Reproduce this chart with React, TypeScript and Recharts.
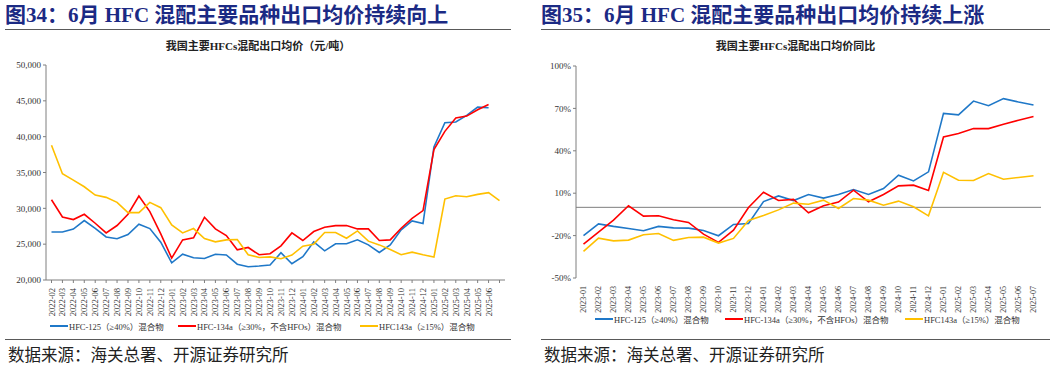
import React from "react";
import { LineChart, Line, XAxis, YAxis, ReferenceLine } from "recharts";

// 左图：出口均价（元/吨）
const priceMonths = [
  "2022-02", "2022-03", "2022-04", "2022-05", "2022-06", "2022-07", "2022-08", "2022-09", "2022-10", "2022-11", "2022-12",
  "2023-01", "2023-02", "2023-03", "2023-04", "2023-05", "2023-06", "2023-07", "2023-08", "2023-09", "2023-10", "2023-11", "2023-12",
  "2024-01", "2024-02", "2024-03", "2024-04", "2024-05", "2024-06", "2024-07", "2024-08", "2024-09", "2024-10", "2024-11", "2024-12",
  "2025-01", "2025-02", "2025-03", "2025-04", "2025-05", "2025-06", "",
];
const hfc125Price = [
  26700, 26700, 27100, 28300, 27200, 26000, 25750, 26350, 27780, 27180, 25280,
  22400, 23600, 23100, 23000, 23600, 23500, 22200, 21850, 21950, 22100, 23800, 22270,
  23240, 25320, 24070, 25050, 25050, 25600, 24900, 23840, 24900, 27000, 28240, 27870,
  38570, 41950, 42040, 42960, 44120, 44030, null,
];
const hfc134aPrice = [
  31200, 28800, 28430, 29170, 27920, 26570, 27600, 29170, 31710, 29540, 26440,
  23060, 25600, 25880, 28750, 27130, 26200, 24210, 24540, 23520, 23660, 24770, 26570,
  25510, 26760, 27360, 27590, 27590, 27130, 27130, 25510, 25600, 27220, 28610, 29680,
  38200, 40740, 42600, 42870, 43750, 44490, null,
];
const hfc143aPrice = [
  38800, 34820, 33940, 33010, 31850, 31530, 30830, 29400, 29400, 30830, 30090,
  27690, 26570, 27180, 25790, 25320, 25600, 25650, 23520, 23150, 23220, 22960, 23470,
  24720, 25000, 26620, 26620, 25830, 26850, 25420, 24900, 24260, 23520, 23890, 23520,
  23190, 31300, 31760, 31620, 31950, 32180, 31070,
];
const priceTicks = [20000, 25000, 30000, 35000, 40000, 45000, 50000];

// 右图：出口均价同比（%）
const yoyMonths = [
  "2023-01", "2023-02", "2023-03", "2023-04", "2023-05", "2023-06", "2023-07", "2023-08", "2023-09", "2023-10", "2023-11", "2023-12",
  "2024-01", "2024-02", "2024-03", "2024-04", "2024-05", "2024-06", "2024-07", "2024-08", "2024-09", "2024-10", "2024-11", "2024-12",
  "2025-01", "2025-02", "2025-03", "2025-04", "2025-05", "2025-06", "2025-07",
];
const hfc125Yoy = [
  -20.1, -11.7, -13.5, -15.0, -16.6, -13.5, -14.5, -14.7, -16.4, -20.1, -12.1, -11.4,
  4.1, 8.1, 4.8, 9.1, 6.5, 9.1, 12.6, 9.1, 13.3, 22.7, 18.7, 25.1,
  66.5, 65.4, 75.2, 71.9, 76.9, 74.5, 72.4,
];
const hfc134aYoy = [
  -26.0, -17.5, -9.1, 1.1, -6.2, -6.0, -8.8, -10.7, -19.0, -24.8, -16.1, -0.1,
  10.7, 4.8, 5.6, -3.9, 1.1, 3.7, 12.1, 3.9, 9.1, 15.2, 15.7, 11.9,
  49.8, 52.2, 55.7, 55.7, 58.8, 61.6, 64.2,
];
const hfc143aYoy = [
  -31.2, -21.8, -23.7, -23.2, -19.4, -18.5, -23.4, -21.3, -21.1, -25.3, -22.0, -9.3,
  -5.8, -1.8, 3.0, 2.2, 5.1, -0.8, 6.2, 5.1, 1.5, 4.4, 0.4, -6.0,
  24.8, 19.2, 19.0, 23.9, 19.9, 21.1, 22.3,
];
const yoyTicks = [-50, -20, 10, 40, 70, 100];

const seriesNames = ["HFC-125（≥40%）混合物", "HFC-134a（≥30%，不含HFOs）混合物", "HFC143a（≥15%）混合物"];
const COLORS = ["#1F78C8", "#FF0000", "#FFC000"];

const SERIF = "'Liberation Serif', 'Times New Roman', 'Noto Sans CJK SC', serif";
const CJK = "'Noto Sans CJK SC', sans-serif";
const AXIS = "#7f7f7f";

const priceData = priceMonths.map((m, i) => ({
  month: m,
  a: hfc125Price[i],
  b: hfc134aPrice[i],
  c: hfc143aPrice[i],
}));
const yoyData = yoyMonths.map((m, i) => ({
  month: m,
  a: hfc125Yoy[i],
  b: hfc134aYoy[i],
  c: hfc143aYoy[i],
}));

function MonthTick(props: any) {
  const { x, y, payload, size = 8.5, gap = 3 } = props;
  return (
    <text
      x={x}
      y={y + gap}
      transform={`rotate(-90, ${x}, ${y + gap})`}
      textAnchor="end"
      dominantBaseline="central"
      fontSize={size}
      fontFamily={SERIF}
      fill="#333"
    >
      {payload.value}
    </text>
  );
}

function LegendRow({ left, top, offsets }: { left: number; top: number; offsets: number[] }) {
  return (
    <>
      {seriesNames.map((name, i) => (
        <div
          key={name}
          style={{
            position: "absolute",
            left: left + offsets[i],
            top: top - 6,
            height: 12,
            display: "flex",
            alignItems: "center",
            whiteSpace: "nowrap",
            fontFamily: SERIF,
            fontSize: 8.5,
            color: "#333",
          }}
        >
          <span style={{ display: "inline-block", width: 18, height: 2, background: COLORS[i], marginRight: 1 }} />
          {name}
        </div>
      ))}
    </>
  );
}

function Header({ left, width, title, subtitle }: { left: number; width: number; title: string; subtitle: string }) {
  return (
    <>
      <div
        style={{
          position: "absolute",
          left: left,
          top: 3,
          fontFamily: "'Liberation Serif', 'Noto Sans CJK SC', serif",
          fontWeight: 700,
          fontSize: 21,
          lineHeight: "24px",
          color: "#1B2A84",
          whiteSpace: "nowrap",
        }}
      >
        {title}
      </div>
      <div style={{ position: "absolute", left: left, top: 29, width: width, height: 1, background: "#595959" }} />
      <div
        style={{
          position: "absolute",
          left: left,
          width: width,
          top: 37,
          textAlign: "center",
          fontFamily: SERIF,
          fontWeight: 700,
          fontSize: 11,
          color: "#222",
        }}
      >
        {subtitle}
      </div>
      <div style={{ position: "absolute", left: left, top: 339, width: width, height: 1, background: "#595959" }} />
      <div
        style={{
          position: "absolute",
          left: left + 3,
          top: 343,
          fontFamily: CJK,
          fontSize: 16.5,
          lineHeight: "22px",
          color: "#222",
          whiteSpace: "nowrap",
        }}
      >
        数据来源：海关总署、开源证券研究所
      </div>
    </>
  );
}

export default function App() {
  return (
    <div style={{ position: "absolute", left: 0, top: 0, width: 1057, height: 366, background: "#fff", overflow: "hidden" }}>
      <Header left={5} width={506} title="图34：6月 HFC 混配主要品种出口均价持续向上" subtitle="我国主要HFCs混配出口均价（元/吨）" />
      <Header left={541} width={509} title="图35：6月 HFC 混配主要品种出口均价持续上涨" subtitle="我国主要HFCs混配出口均价同比" />

      <div style={{ position: "absolute", left: 0, top: 55 }}>
        <LineChart width={520} height={275} data={priceData} margin={{ top: 10, right: 15, left: 6, bottom: 0 }}>
          <XAxis
            dataKey="month"
            interval={0}
            height={50}
            padding={{ left: 5.5, right: 5.5 }}
            tick={<MonthTick />}
            stroke={AXIS}
            tickSize={3}
          />
          <YAxis
            width={40}
            domain={[20000, 50000]}
            ticks={priceTicks}
            tickFormatter={(v: number) => v.toLocaleString("en-US")}
            tick={{ fontSize: 9, fontFamily: SERIF, fill: "#333" }}
            stroke={AXIS}
            tickSize={3}
          />
          {["a", "b", "c"].map((k, i) => (
            <Line key={k} dataKey={k} stroke={COLORS[i]} strokeWidth={1.6} dot={false} isAnimationActive={false} />
          ))}
        </LineChart>
      </div>
      <LegendRow left={50} top={326} offsets={[0, 128, 310]} />

      <div style={{ position: "absolute", left: 530, top: 55 }}>
        <LineChart width={526} height={265} data={yoyData} margin={{ top: 11, right: 15, left: 6, bottom: 0 }}>
          <XAxis
            dataKey="month"
            interval={0}
            height={42}
            padding={{ left: 7.5, right: 7.5 }}
            tick={<MonthTick size={8} gap={0} />}
            axisLine={false}
            tickLine={false}
          />
          <YAxis
            width={40}
            domain={[-50, 100]}
            ticks={yoyTicks}
            tickFormatter={(v: number) => `${v}%`}
            tick={{ fontSize: 9, fontFamily: SERIF, fill: "#333" }}
            stroke={AXIS}
            tickSize={3}
          />
          <ReferenceLine y={0} stroke={AXIS} />
          {["a", "b", "c"].map((k, i) => (
            <Line key={k} dataKey={k} stroke={COLORS[i]} strokeWidth={1.6} dot={false} isAnimationActive={false} />
          ))}
        </LineChart>
      </div>
      <LegendRow left={595} top={319} offsets={[0, 130, 310]} />
    </div>
  );
}
